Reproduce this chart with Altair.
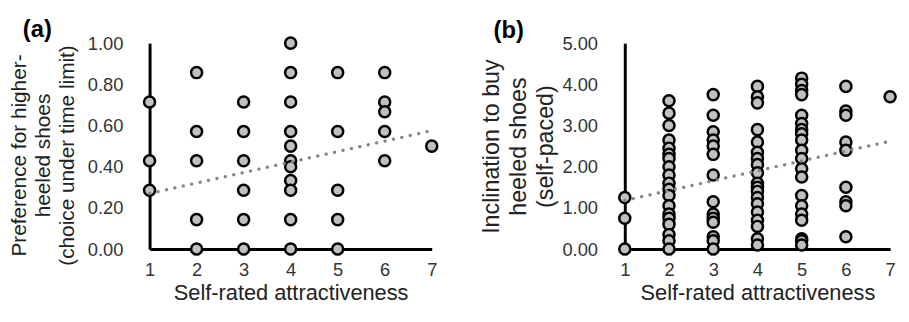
import altair as alt
import pandas as pd

FONT = "Liberation Sans"

# ---------------- Panel (a) ----------------
a_ratings = [1, 2, 3, 4, 5, 6, 7]
a_values = [
    [0.714, 0.429, 0.286],
    [0.857, 0.571, 0.429, 0.143, 0.0],
    [0.714, 0.571, 0.429, 0.286, 0.143, 0.0],
    [1.0, 0.857, 0.714, 0.571, 0.5, 0.429, 0.4, 0.333, 0.286, 0.143, 0.0],
    [0.857, 0.571, 0.286, 0.143, 0.0],
    [0.857, 0.714, 0.667, 0.571, 0.429],
    [0.5],
]
a_trend_x = [1, 6.9]
a_trend_y = [0.27, 0.57]
a_yticks = [0.0, 0.2, 0.4, 0.6, 0.8, 1.0]
a_ytitle = ["Preference for higher-", "heeled shoes", "(choice under time limit)"]

# ---------------- Panel (b) ----------------
b_ratings = [1, 2, 3, 4, 5, 6, 7]
b_values = [
    [1.25, 0.75, 0.0],
    [3.6, 3.3, 3.0, 2.65, 2.45, 2.3, 2.2, 2.0, 1.8, 1.6, 1.45, 1.3, 1.05, 0.85,
     0.75, 0.6, 0.35, 0.2, 0.0],
    [3.75, 3.25, 2.85, 2.65, 2.5, 2.3, 1.8, 1.15, 0.85, 0.75, 0.65, 0.3, 0.2, 0.0],
    [3.95, 3.7, 3.55, 2.9, 2.6, 2.35, 2.2, 2.05, 1.85, 1.6, 1.5, 1.4, 1.25, 1.1,
     0.9, 0.7, 0.55, 0.25, 0.1],
    [4.15, 4.0, 3.85, 3.75, 3.25, 3.05, 2.9, 2.8, 2.65, 2.4, 2.2, 1.95, 1.75, 1.3,
     1.05, 0.85, 0.7, 0.25, 0.2, 0.1],
    [3.95, 3.35, 3.25, 2.6, 2.4, 1.5, 1.15, 1.05, 0.3],
    [3.7],
]
b_trend_x = [1, 7]
b_trend_y = [1.18, 2.62]
b_yticks = [0, 1, 2, 3, 4, 5]
b_ytitle = ["Inclination to buy", "heeled shoes", "(self-paced)"]

x_ticks = [1, 2, 3, 4, 5, 6, 7]
x_title = "Self-rated attractiveness"


def panel(ratings, values, tx, ty, yticks, ytitle, tsize, tlh, lpad, tpad,
          title_shift, tag, tdx, w, h):
    pts = pd.DataFrame(
        [{"r": r, "v": v} for r, vs in zip(ratings, values) for v in vs]
    )
    trend = pd.DataFrame({"r": tx, "v": ty})
    x_enc = alt.X(
        "r:Q",
        scale=alt.Scale(domain=[1, 7], nice=False, zero=False),
        axis=alt.Axis(
            values=x_ticks, title=x_title, labelFontSize=18.5, labelPadding=12,
            titleFontSize=22, titlePadding=3, labelFlush=False, format="d",
        ),
    )
    y_enc = alt.Y(
        "v:Q",
        scale=alt.Scale(domain=[yticks[0], yticks[-1]], nice=False),
        axis=alt.Axis(
            values=yticks, format=".2f", title=ytitle, labelFontSize=18.5,
            labelPadding=lpad, titleFontSize=tsize, titleLineHeight=tlh,
            titlePadding=tpad, labelFlush=False, titleY=h / 2 + title_shift,
        ),
    )
    points = alt.Chart(pts).mark_circle(
        size=125, fill="#c0c0c0", stroke="black", strokeWidth=2.5, opacity=1
    ).encode(x=x_enc, y=y_enc)
    line = alt.Chart(trend).mark_line(
        color="#858585", strokeWidth=3.3, strokeDash=[0.1, 8.6], strokeCap="round"
    ).encode(x=x_enc, y=y_enc)
    return alt.layer(points, line).properties(
        width=w, height=h,
        title=alt.TitleParams(
            tag, anchor="start", fontSize=24, fontWeight="bold", font=FONT,
            color="black", dx=tdx, offset=-9,
        ),
    )


pa = panel(a_ratings, a_values, a_trend_x, a_trend_y, a_yticks, a_ytitle,
           21, 24, 27, 10, 9, "(a)", 14, 285, 208)
pb = panel(b_ratings, b_values, b_trend_x, b_trend_y, b_yticks, b_ytitle,
           23.5, 27.5, 27.5, 4, 0, "(b)", 14, 268, 208)

chart = alt.hconcat(pa, pb, spacing=37).properties(
    padding={"left": 0, "top": 8, "right": 0, "bottom": 0}
).configure_view(stroke=None).configure_axis(
    grid=False, domainColor="black", domainWidth=3, ticks=False, tickSize=0,
    labelFont=FONT, titleFont=FONT, labelColor="#333333", titleColor="#222222",
    titleFontWeight="normal", labelOverlap=False,
)

chart.save("out.html", embed_options={"renderer": "svg", "actions": False})
